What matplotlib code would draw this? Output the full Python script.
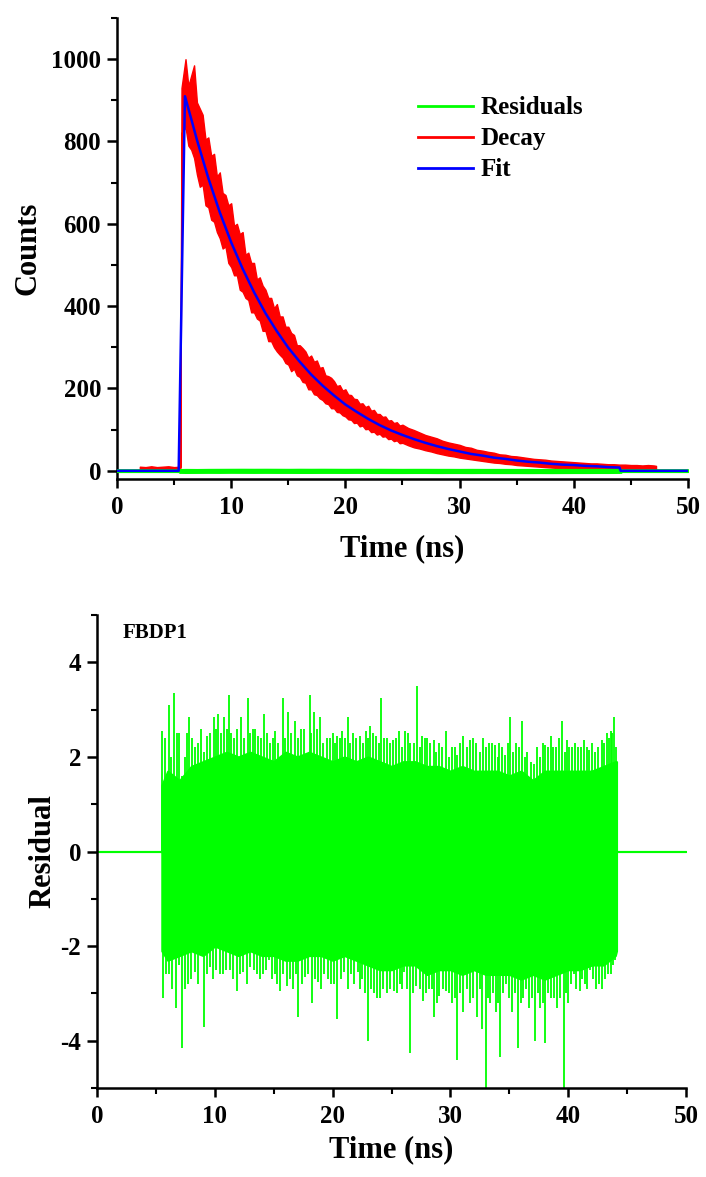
import matplotlib
matplotlib.use('Agg')
import matplotlib.pyplot as plt
from matplotlib.ticker import MultipleLocator
from matplotlib.lines import Line2D

plt.rcParams['font.family'] = ['Liberation Serif', 'DejaVu Serif']
plt.rcParams['font.weight'] = 'bold'
plt.rcParams['axes.unicode_minus'] = False

RED = '#ff0000'
GREEN = '#00ff00'
BLUE = '#0000ff'

# --- decay data (noisy band: upper / lower edge, counts)
decay_t = [2.0, 2.5, 3.0, 3.5, 4.0, 4.5, 5.0, 5.5, 5.55, 5.65,
           6.0, 6.25, 6.5, 6.75, 7.0, 7.25, 7.5, 7.75, 8.0, 8.25,
           8.5, 8.75, 9.0, 9.25, 9.5, 9.75, 10.0, 10.25, 10.5, 10.75,
           11.0, 11.25, 11.5, 11.75, 12.0, 12.25, 12.5, 12.75, 13.0, 13.25,
           13.5, 13.75, 14.0, 14.25, 14.5, 14.75, 15.0, 15.25, 15.5, 15.75,
           16.0, 16.25, 16.5, 16.75, 17.0, 17.25, 17.5, 17.75, 18.0, 18.25,
           18.5, 18.75, 19.0, 19.25, 19.5, 19.75, 20.0, 20.25, 20.5, 20.75,
           21.0, 21.25, 21.5, 21.75, 22.0, 22.25, 22.5, 22.75, 23.0, 23.25,
           23.5, 23.75, 24.0, 24.25, 24.5, 24.75, 25.0, 25.5,
           26.0, 26.5, 27.0, 27.5, 28.0, 28.5, 29.0, 29.5, 30.0, 30.5,
           31.0, 31.5, 32.0, 32.5, 33.0, 33.5, 34.0, 34.5, 35.0, 35.5,
           36.0, 36.5, 37.0, 37.5, 38.0, 38.5, 39.0, 39.5, 40.0, 40.5,
           41.0, 41.5, 42.0, 42.5, 43.0, 43.5, 44.0, 44.5, 45.0, 45.5,
           46.0, 46.5, 47.0, 47.2]
decay_hi = [10, 9, 11, 9, 10, 11, 9, 10, 10, 930,
            1000, 935, 960, 985, 895, 880, 865, 805, 810, 765,
            770, 715, 725, 675, 670, 645, 650, 595, 600, 575,
            580, 525, 530, 505, 505, 465, 470, 450, 440, 420,
            420, 395, 405, 375, 375, 350, 350, 335, 330, 305,
            305, 298, 290, 275, 280, 265, 268, 250, 252, 232,
            230, 226, 218, 206, 208, 195, 198, 185, 184, 175,
            174, 163, 164, 155, 158, 146, 148, 138, 138, 131,
            132, 122, 123, 116, 118, 110, 112, 104,
            99, 93, 87, 83, 79, 73, 69, 66, 63, 58,
            56, 51, 49, 46, 44, 40, 39, 36, 35, 33,
            31, 29, 28, 27, 25, 24, 23, 22, 21, 20,
            19, 18, 18, 17, 16, 16, 15, 15, 14, 14,
            13, 14, 13, 12]
decay_lo = [2, 1, 2, 0, 2, 1, 2, 1, 1, 820,
            835, 790, 780, 760, 720, 690, 695, 645, 640, 610,
            605, 580, 565, 540, 545, 505, 495, 475, 475, 440,
            435, 420, 415, 385, 385, 370, 365, 340, 340, 315,
            315, 300, 290, 282, 275, 262, 258, 242, 248, 232,
            228, 216, 214, 198, 198, 186, 184, 176, 172, 164,
            162, 152, 152, 143, 142, 135, 132, 125, 124, 116,
            117, 108, 110, 101, 102, 94, 95, 88, 90, 83,
            84, 77, 78, 72, 74, 67, 68, 62,
            57, 54, 50, 47, 43, 40, 37, 35, 32, 30,
            28, 26, 24, 22, 20, 19, 17, 16, 14, 13,
            12, 11, 10, 9, 8, 7, 6, 5, 5, 4,
            3, 3, 2, 2, 1, 1, 1, 0, 0, 0,
            0, 0, 0, 0]

# --- fit curve (counts)
fit_t = [0, 5.4, 5.95, 6.5, 7, 8, 9, 10, 11, 12, 13, 14, 15, 16, 17, 18,
         19, 20, 21, 22, 23, 24, 25, 26, 27, 28, 29, 30, 31, 32, 33, 34,
         35, 36, 37, 38, 39, 40, 41, 42, 43, 44, 44.1, 50]
fit_counts = [0, 0, 910, 855, 804, 711, 628, 555, 491, 434, 383, 339, 299,
              265, 234, 207, 183, 161, 143, 126, 111, 98, 87, 77, 68, 60,
              53, 47, 41, 37, 32, 29, 25, 22, 20, 17, 15, 14, 12, 11, 9,
              8, 0, 0]

# --- residuals: dense core band
res_core_t = [0, 5.5, 5.5, 6, 7, 8, 9, 10, 11, 12, 13, 14, 15, 16, 17, 18,
              19, 20, 21, 22, 23, 24, 25, 26, 27, 28, 29, 30, 31, 32, 33,
              34, 35, 36, 37, 38, 39, 40, 41, 42, 43, 44, 44.1, 44.1, 50]
res_core_hi = [0, 0, 1.4, 1.7, 1.5, 1.8, 1.9, 2.0, 2.1, 2.0, 2.1, 2.0, 1.9,
               2.1, 2.0, 2.1, 2.0, 1.9, 2.0, 1.9, 2.0, 1.9, 1.8, 1.9, 1.9,
               1.8, 1.8, 1.7, 1.8, 1.7, 1.7, 1.7, 1.6, 1.7, 1.5, 1.7, 1.7,
               1.7, 1.7, 1.7, 1.8, 1.9, 1.9, 0, 0]
res_core_lo = [0, 0, -2.1, -2.3, -2.2, -2.1, -2.2, -2.0, -2.1, -2.2, -2.1,
               -2.2, -2.2, -2.3, -2.3, -2.2, -2.2, -2.3, -2.2, -2.3, -2.4,
               -2.5, -2.5, -2.4, -2.4, -2.6, -2.5, -2.5, -2.6, -2.5, -2.6,
               -2.6, -2.6, -2.7, -2.6, -2.7, -2.6, -2.5, -2.5, -2.4, -2.4,
               -2.2, -2.1, 0, 0]

# --- residuals: tall positive spikes
res_up_t = [5.53, 6.1, 6.5, 6.98, 7.44, 7.8, 8.3, 8.85, 9.35, 9.9, 10.3,
            10.76, 11.2, 11.6, 12.2, 12.8, 13.2, 13.7, 14.2, 14.7, 15.15,
            15.8, 16.2, 16.8, 17.3, 18.05, 18.4, 18.9, 19.5, 20.05, 20.4,
            20.8, 21.3, 21.75, 22.3, 22.8, 23.2, 23.7, 24.15, 24.6, 25.1,
            25.6, 26.15, 26.6, 27.2, 27.6, 28.05, 28.6, 29.05, 29.6, 30.15,
            30.55, 31.1, 31.7, 32.2, 32.8, 33.3, 33.8, 34.15, 34.6, 35.1,
            35.6, 36.05, 36.5, 37.1, 37.6, 38.05, 38.5, 39.0, 39.5, 39.9,
            40.35, 40.85, 41.35, 41.8, 42.25, 42.85, 43.3, 43.6, 43.9, 44.05]
res_up = [2.55, 3.1, 3.35, 2.5, 2.0, 2.85, 2.2, 2.6, 2.45, 2.85, 2.9,
          2.85, 3.3, 2.4, 2.85, 3.25, 2.6, 2.45, 2.9, 2.3, 2.55,
          3.25, 2.95, 2.75, 2.6, 3.3, 2.95, 2.85, 2.4, 2.5, 2.45,
          2.55, 2.85, 2.5, 2.45, 2.55, 2.65, 2.45, 3.25, 2.4, 2.35,
          2.55, 2.55, 2.3, 3.5, 2.45, 2.4, 2.35, 2.3, 2.55, 2.2,
          2.05, 2.45, 2.35, 2.3, 2.4, 2.3, 2.25, 2.3, 2.05, 2.85,
          2.3, 2.75, 2.1, 1.85, 2.0, 2.25, 2.45, 2.2, 2.75, 2.35,
          2.2, 2.2, 2.35, 2.15, 2.1, 2.35, 2.5, 2.55, 2.85, 2.2]

# --- residuals: medium positive spikes
res_up2_t = [5.8, 6.3, 6.75, 7.2, 7.6, 8.05, 8.55, 9.1, 9.6, 10.1, 10.5,
             11.0, 11.4, 11.9, 12.5, 13.0, 13.45, 13.95, 14.45, 14.9, 15.4,
             15.95, 16.5, 17.05, 17.6, 18.2, 18.65, 19.2, 19.75, 20.2, 20.6,
             21.05, 21.5, 22.0, 22.55, 23.0, 23.45, 23.9, 24.4, 24.85, 25.35,
             25.9, 26.4, 26.9, 27.4, 27.85, 28.3, 28.8, 29.3, 29.85, 30.35,
             30.85, 31.4, 31.95, 32.5, 33.05, 33.55, 34.0, 34.4, 34.85, 35.35,
             35.85, 36.3, 36.8, 37.35, 37.85, 38.3, 38.75, 39.25, 39.7, 40.1,
             40.6, 41.1, 41.6, 42.0, 42.55, 43.05, 43.45, 43.75]
res_up2 = [2.4, 2.0, 2.5, 1.6, 2.5, 2.4, 2.3, 2.1, 2.5, 2.6, 2.5,
           2.6, 2.5, 2.6, 2.4, 2.5, 2.6, 2.4, 2.5, 2.4, 2.3,
           2.4, 2.5, 2.4, 2.6, 2.5, 2.6, 2.3, 2.4, 2.3, 2.4,
           2.4, 2.3, 2.4, 2.3, 2.4, 2.5, 2.3, 2.4, 2.3, 2.4,
           2.2, 2.5, 2.3, 2.2, 2.4, 2.3, 2.1, 2.2, 2.0, 2.2,
           2.3, 2.2, 2.4, 2.1, 2.2, 2.3, 2.0, 2.2, 2.3, 2.1,
           2.2, 2.0, 1.9, 2.2, 2.3, 2.2, 2.2, 2.4, 2.1, 2.2,
           2.3, 2.2, 2.2, 2.3, 2.2, 2.3, 2.4, 2.5]

# --- residuals: tall negative spikes
res_dn_t = [5.6, 6.1, 6.7, 7.25, 7.75, 8.3, 9.05, 9.6, 10.1, 10.7, 11.25,
            11.85, 12.4, 13.0, 13.55, 14.1, 14.6, 15.1, 15.55, 16.1, 16.6,
            17.1, 17.65, 18.25, 18.8, 19.3, 19.85, 20.4, 21.0, 21.55, 22.15,
            22.5, 23.0, 23.5, 24.05, 24.6, 25.2, 25.7, 26.1, 26.6, 27.1,
            27.7, 28.15, 28.6, 29.05, 29.6, 30.15, 30.55, 31.1, 31.7, 32.25,
            32.7, 33.0, 33.4, 33.9, 34.25, 34.75, 35.25, 35.7, 36.15, 36.65,
            37.15, 37.6, 38.05, 38.55, 39.05, 39.6, 40.0, 40.45, 41.0, 41.4,
            41.85, 42.35, 42.9, 43.4, 43.8, 44.0]
res_dn = [-3.1, -2.6, -3.3, -4.15, -2.8, -2.55, -3.7, -2.45, -2.5, -2.6, -2.5,
          -2.95, -2.55, -2.45, -2.6, -2.6, -2.3, -2.6, -2.95, -2.85, -2.9,
          -3.5, -2.65, -3.2, -2.75, -2.6, -2.8, -3.55, -2.55, -2.6, -2.55,
          -2.7, -4.0, -3.0, -3.1, -3.0, -2.95, -2.8, -2.55, -4.25, -2.85,
          -3.15, -2.9, -3.5, -3.05, -2.95, -3.2, -4.4, -3.4, -3.2, -3.5,
          -3.75, -5.0, -3.2, -3.4, -4.35, -2.8, -3.4, -4.15, -3.1, -3.3,
          -4.0, -3.3, -4.05, -3.1, -3.3, -5.0, -3.2, -2.6, -2.95, -2.8,
          -2.5, -2.9, -2.9, -2.6, -2.4, -2.3]

# --- residuals: medium negative spikes
res_dn2_t = [5.85, 6.4, 6.95, 7.5, 8.0, 8.6, 9.3, 9.85, 10.4, 10.95, 11.55,
             12.1, 12.7, 13.3, 13.8, 14.35, 14.85, 15.3, 15.8, 16.35, 16.85,
             17.4, 17.95, 18.5, 19.05, 19.6, 20.1, 20.7, 21.3, 21.85, 22.35,
             22.75, 23.25, 23.75, 24.3, 24.85, 25.45, 25.9, 26.35, 26.85, 27.4,
             27.95, 28.4, 28.85, 29.35, 29.85, 30.35, 30.85, 31.4, 31.95, 32.5,
             33.2, 33.65, 34.05, 34.5, 35.0, 35.5, 35.95, 36.4, 36.9, 37.4,
             37.85, 38.3, 38.8, 39.3, 39.8, 40.25, 40.7, 41.2, 41.6, 42.1,
             42.6, 43.15, 43.6]
res_dn2 = [-2.6, -2.9, -2.4, -2.9, -2.7, -2.8, -2.6, -2.7, -2.6, -2.5, -2.7,
           -2.6, -2.8, -2.5, -2.7, -2.5, -2.7, -2.8, -2.6, -2.7, -2.6,
           -2.8, -2.6, -2.7, -2.9, -2.7, -2.8, -2.7, -2.9, -2.8, -2.9,
           -3.0, -2.9, -3.1, -2.9, -2.9, -3.0, -2.9, -2.9, -3.0, -2.9,
           -3.0, -2.9, -3.2, -2.9, -3.0, -3.1, -3.0, -2.9, -3.1, -2.9,
           -3.1, -3.0, -3.2, -3.0, -3.1, -3.0, -3.2, -2.9, -3.1, -3.0,
           -3.2, -3.0, -3.1, -3.1, -3.0, -2.8, -2.9, -2.7, -2.9, -2.7,
           -2.8, -2.7, -2.6]

TICK_FS = 18
LABEL_FS = 22


def style_axes(ax):
    for side in ('top', 'right'):
        ax.spines[side].set_visible(False)
    for side in ('left', 'bottom'):
        ax.spines[side].set_linewidth(1.8)
    ax.tick_params(axis='y', which='major', direction='out', length=7.5,
                   width=1.8, labelsize=TICK_FS, pad=4)
    ax.tick_params(axis='x', which='major', direction='out', length=6.5,
                   width=1.8, labelsize=TICK_FS, pad=6)
    ax.tick_params(which='minor', direction='out', length=4.5, width=1.5)
    for lab in ax.get_xticklabels() + ax.get_yticklabels():
        lab.set_fontweight('bold')


fig = plt.figure(figsize=(7.06, 11.77), dpi=100)

# ---------------- top: decay + fit
ax1 = fig.add_axes([0.1657, 0.5930, 0.8088, 0.3917])
ax1.fill_between(decay_t, decay_lo, decay_hi, color=RED, lw=1.0,
                 edgecolor=RED, zorder=2)
ax1.fill_between(res_core_t, res_core_lo, res_core_hi, color=GREEN,
                 lw=2.5, edgecolor=GREEN, zorder=3)
ax1.plot(fit_t, fit_counts, color=BLUE, lw=1.8, zorder=4)

ax1.set_xlim(0, 50)
ax1.set_ylim(-20, 1100)
ax1.xaxis.set_major_locator(MultipleLocator(10))
ax1.xaxis.set_minor_locator(MultipleLocator(5))
ax1.yaxis.set_major_locator(MultipleLocator(200))
ax1.yaxis.set_minor_locator(MultipleLocator(100))
style_axes(ax1)
ax1.set_xlabel('Time (ns)', fontsize=LABEL_FS, fontweight='bold', labelpad=11)
ax1.set_ylabel('Counts', fontsize=LABEL_FS, fontweight='bold', labelpad=6)

handles = [Line2D([], [], color=GREEN, lw=2),
           Line2D([], [], color=RED, lw=2),
           Line2D([], [], color=BLUE, lw=2)]
ax1.legend(handles, ['Residuals', 'Decay', 'Fit'], loc='upper left',
           bbox_to_anchor=(0.488, 0.879), frameon=False,
           prop={'size': 18, 'weight': 'bold'}, handlelength=2.2,
           handletextpad=0.3, labelspacing=0.32)

# ---------------- bottom: residuals
ax2 = fig.add_axes([0.1374, 0.0756, 0.8343, 0.4019])
ax2.fill_between(res_core_t, res_core_lo, res_core_hi, color=GREEN,
                 lw=1.5, edgecolor=GREEN)
ax2.vlines(res_up_t, 0, res_up, color=GREEN, lw=1.3)
ax2.vlines(res_up2_t, 0, res_up2, color=GREEN, lw=1.3)
ax2.vlines(res_dn_t, 0, res_dn, color=GREEN, lw=1.3)
ax2.vlines(res_dn2_t, 0, res_dn2, color=GREEN, lw=1.3)

ax2.set_xlim(0, 50)
ax2.set_ylim(-5, 5)
ax2.xaxis.set_major_locator(MultipleLocator(10))
ax2.xaxis.set_minor_locator(MultipleLocator(5))
ax2.yaxis.set_major_locator(MultipleLocator(2))
ax2.yaxis.set_minor_locator(MultipleLocator(1))
style_axes(ax2)
ax2.set_xlabel('Time (ns)', fontsize=LABEL_FS, fontweight='bold', labelpad=5)
ax2.set_ylabel('Residual', fontsize=LABEL_FS, fontweight='bold', labelpad=2)
ax2.text(0.044, 0.962, 'FBDP1', transform=ax2.transAxes, fontsize=15,
         fontweight='bold', va='center', ha='left')

fig.savefig('out.png', dpi=100, facecolor='white')
